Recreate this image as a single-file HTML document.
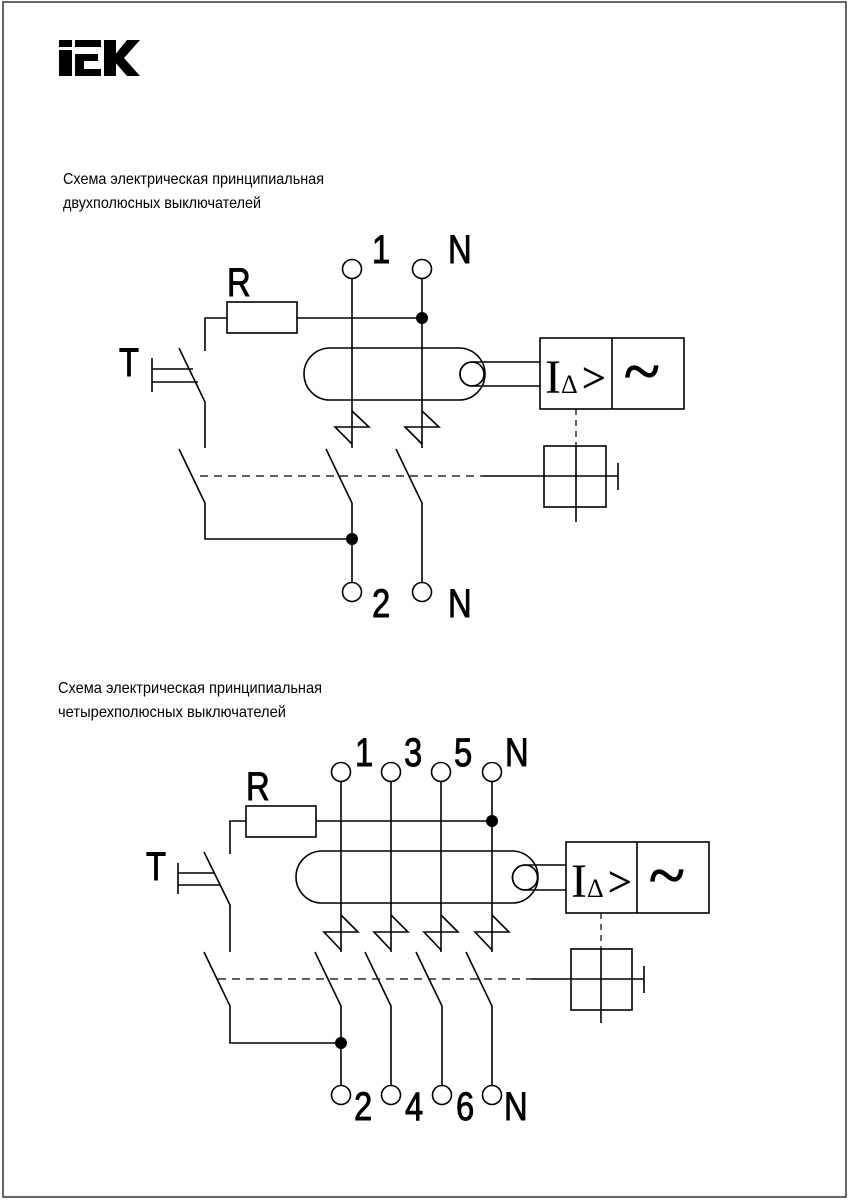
<!DOCTYPE html>
<html><head><meta charset="utf-8"><style>
html,body{margin:0;padding:0;background:#fff}
svg{display:block}
.t{font-family:"Liberation Sans",sans-serif;fill:#000}
.s{font-family:"Liberation Serif",serif;fill:#000}
.lb text{stroke:#000;stroke-width:0.9}
</style></head><body>
<svg width="850" height="1200" viewBox="0 0 850 1200" xmlns="http://www.w3.org/2000/svg">
<rect x="3" y="2" width="843" height="1195" fill="none" stroke="#333" stroke-width="1.5"/>
<g fill="#000">
<rect x="59" y="40" width="13" height="7"/>
<rect x="59" y="50" width="13" height="26"/>
<rect x="75" y="40" width="26" height="7"/>
<rect x="75" y="54" width="23" height="7"/>
<rect x="75" y="69" width="26" height="7"/>
<rect x="75" y="54" width="9" height="22"/>
<rect x="104" y="40" width="12" height="36"/>
<polygon points="114,56 127,40 140,40 124,58 140,76 127,76 114,61"/>
</g>
<g class="t" font-size="16">
<text x="63" y="184" textLength="261" lengthAdjust="spacingAndGlyphs">Схема электрическая принципиальная</text>
<text x="63" y="208" textLength="198" lengthAdjust="spacingAndGlyphs">двухполюсных выключателей</text>
<text x="58" y="693" textLength="264" lengthAdjust="spacingAndGlyphs">Схема электрическая принципиальная</text>
<text x="58" y="717" textLength="228" lengthAdjust="spacingAndGlyphs">четырехполюсных выключателей</text>
</g>

<!-- TOP DIAGRAM -->
<g stroke="#000" stroke-width="1.6" fill="none">
<circle cx="352" cy="269" r="9.5"/><circle cx="422" cy="269" r="9.5"/>
<line x1="352" y1="279" x2="352" y2="448"/>
<line x1="422" y1="279" x2="422" y2="448"/>
<rect x="227" y="302" width="70" height="31"/>
<line x1="297" y1="318" x2="422" y2="318"/>
<polyline points="227,318 205,318 205,351"/>
<polyline points="179,348 205,402 205,448"/>
<line x1="152" y1="358" x2="152" y2="392"/>
<line x1="152" y1="369" x2="193" y2="369"/>
<line x1="152" y1="382" x2="198" y2="382"/>
<rect x="304" y="348" width="181" height="52" rx="26"/>
<path d="M540 362 H472 A12 12 0 0 0 472 386 H540"/>
<circle cx="472" cy="374" r="12"/>
<rect x="540" y="338" width="144" height="71"/>
<line x1="612" y1="338" x2="612" y2="409"/>
<polyline points="352,411 369,427 335,427 352,444"/>
<polyline points="422,411 439,427 405,427 422,444"/>
<polyline points="326,449 352,503 352,582"/>
<polyline points="396,449 422,503 422,582"/>
<polyline points="179,449 205,503 205,539 352,539"/>
<circle cx="352" cy="592" r="9.5"/><circle cx="422" cy="592" r="9.5"/>
<line x1="200" y1="476" x2="483" y2="476" stroke-dasharray="8,6" stroke-width="1.2"/>
<line x1="483" y1="476" x2="618" y2="476"/>
<line x1="618" y1="463" x2="618" y2="490"/>
<rect x="544" y="446" width="62" height="61"/>
<line x1="576" y1="409" x2="576" y2="446" stroke-dasharray="6,5" stroke-width="1.2"/>
<line x1="576" y1="446" x2="576" y2="522"/>
</g>
<circle cx="422" cy="318" r="6"/>
<circle cx="352" cy="539" r="6"/>
<g class="t lb" font-size="40">
<text transform="translate(372,263) scale(0.82,1)">1</text>
<text transform="translate(448,263) scale(0.82,1)">N</text>
<text transform="translate(227,296) scale(0.82,1)">R</text>
<text transform="translate(119,376) scale(0.82,1)">T</text>
<text transform="translate(372,617) scale(0.82,1)">2</text>
<text transform="translate(448,617) scale(0.82,1)">N</text>
</g>
<text class="s" x="545" y="393" font-size="48">I</text>
<text class="s" x="561" y="393" font-size="26">Δ</text>
<text class="s" x="582" y="392" font-size="42" stroke="#000" stroke-width="0.6">&gt;</text>
<text class="s" x="624" y="393" font-size="66" stroke="#000" stroke-width="1.2">~</text>

<!-- BOTTOM DIAGRAM -->
<g stroke="#000" stroke-width="1.6" fill="none">
<circle cx="341" cy="772" r="9.5"/><circle cx="391" cy="772" r="9.5"/><circle cx="441" cy="772" r="9.5"/><circle cx="492" cy="772" r="9.5"/>
<line x1="341" y1="782" x2="341" y2="952"/>
<line x1="391" y1="782" x2="391" y2="952"/>
<line x1="441" y1="782" x2="441" y2="952"/>
<line x1="492" y1="782" x2="492" y2="952"/>
<rect x="246" y="806" width="70" height="31"/>
<line x1="316" y1="821" x2="492" y2="821"/>
<polyline points="246,821 230,821 230,854"/>
<polyline points="204,852 230,905 230,952"/>
<line x1="178" y1="863" x2="178" y2="894"/>
<line x1="178" y1="873" x2="214" y2="873"/>
<line x1="178" y1="885" x2="220" y2="885"/>
<rect x="296" y="851" width="242" height="52" rx="26"/>
<path d="M566 865 H525 A12.5 12.5 0 0 0 525 890 H566"/>
<circle cx="525" cy="877.5" r="12.5"/>
<rect x="566" y="842" width="143" height="71"/>
<line x1="637" y1="842" x2="637" y2="913"/>
<polyline points="341,915 358,932 324,932 341,950"/>
<polyline points="391,915 408,932 374,932 391,950"/>
<polyline points="441,915 458,932 424,932 441,950"/>
<polyline points="492,915 509,932 475,932 492,950"/>
<polyline points="315,952 341,1006 341,1085"/>
<polyline points="365,952 391,1006 391,1085"/>
<polyline points="416,952 442,1006 442,1085"/>
<polyline points="466,952 492,1006 492,1085"/>
<polyline points="204,952 230,1006 230,1043 341,1043"/>
<circle cx="341" cy="1095" r="9.5"/><circle cx="391" cy="1095" r="9.5"/><circle cx="442" cy="1095" r="9.5"/><circle cx="492" cy="1095" r="9.5"/>
<line x1="218" y1="979" x2="531" y2="979" stroke-dasharray="8,6" stroke-width="1.2"/>
<line x1="531" y1="979" x2="644" y2="979"/>
<line x1="644" y1="966" x2="644" y2="993"/>
<rect x="571" y="949" width="61" height="61"/>
<line x1="601" y1="913" x2="601" y2="949" stroke-dasharray="6,5" stroke-width="1.2"/>
<line x1="601" y1="949" x2="601" y2="1023"/>
</g>
<circle cx="492" cy="821" r="6"/>
<circle cx="341" cy="1043" r="6"/>
<g class="t lb" font-size="40">
<text transform="translate(355,766) scale(0.82,1)">1</text>
<text transform="translate(404,766) scale(0.82,1)">3</text>
<text transform="translate(454,766) scale(0.82,1)">5</text>
<text transform="translate(505,766) scale(0.82,1)">N</text>
<text transform="translate(246,800) scale(0.82,1)">R</text>
<text transform="translate(146,880) scale(0.82,1)">T</text>
<text transform="translate(354,1120) scale(0.82,1)">2</text>
<text transform="translate(405,1120) scale(0.82,1)">4</text>
<text transform="translate(456,1120) scale(0.82,1)">6</text>
<text transform="translate(504,1120) scale(0.82,1)">N</text>
</g>
<text class="s" x="571" y="897" font-size="48">I</text>
<text class="s" x="587" y="897" font-size="26">Δ</text>
<text class="s" x="608" y="896" font-size="42" stroke="#000" stroke-width="0.6">&gt;</text>
<text class="s" x="649" y="897" font-size="66" stroke="#000" stroke-width="1.2">~</text>
</svg>
</body></html>
